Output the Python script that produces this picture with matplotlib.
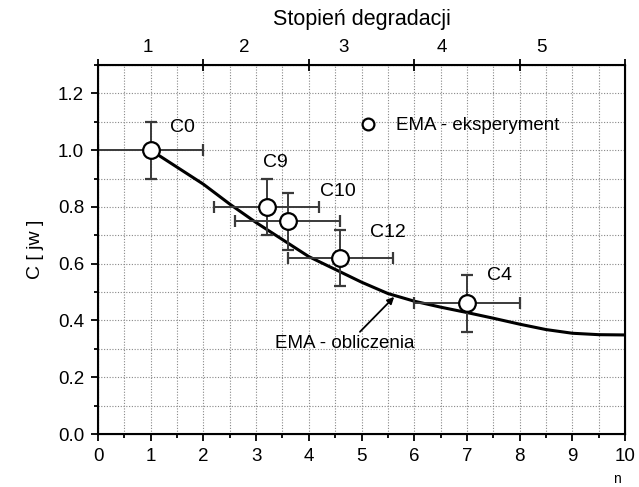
import matplotlib.pyplot as plt
from matplotlib.lines import Line2D
from matplotlib.ticker import MultipleLocator
import numpy as np

plt.rcParams['font.family'] = ['Liberation Sans', 'DejaVu Sans']

# measured points (EMA - eksperyment)
names = ['C0', 'C9', 'C10', 'C12', 'C4']
n_meas = [1.0, 3.2, 3.6, 4.6, 7.0]
c_meas = [1.0, 0.80, 0.75, 0.62, 0.46]
n_err = [1.0, 1.0, 1.0, 1.0, 1.0]
c_err = [0.1, 0.1, 0.1, 0.1, 0.1]
label_pos = [(1.37, 1.08), (3.13, 0.955), (4.21, 0.856), (5.16, 0.71), (7.38, 0.56)]

# calculated curve (EMA - obliczenia)
n_calc = [1, 1.5, 2, 2.5, 3, 3.5, 4, 4.5, 5, 5.5, 6, 6.5, 7, 7.5, 8, 8.5, 9, 9.5, 10]
c_calc = [1.0, 0.94, 0.88, 0.81, 0.745, 0.685, 0.625, 0.58, 0.535, 0.495, 0.468,
          0.447, 0.428, 0.408, 0.387, 0.368, 0.355, 0.350, 0.349]

# top axis (Stopień degradacji) label positions on n scale
deg_labels = ['1', '2', '3', '4', '5']
deg_pos = [0.95, 2.77, 4.65, 6.52, 8.42]

fig = plt.figure(figsize=(6.39, 4.87), dpi=100)
ax = fig.add_axes([0.1534, 0.1088, 0.8247, 0.7577])

ax.plot(n_calc, c_calc, color='black', lw=2.2, zorder=3)
ax.errorbar(n_meas, c_meas, xerr=n_err, yerr=c_err, fmt='o', ms=12,
            mfc='white', mec='black', mew=1.6, ecolor='#3a3a3a', elinewidth=1.4,
            capsize=4, capthick=1.4, zorder=4)

for name, (tx, ty) in zip(names, label_pos):
    ax.text(tx, ty, name, fontsize=14, ha='left', va='center')

ax.text(4.69, 0.318, 'EMA - obliczenia', fontsize=13.5, ha='center', va='center')
ax.annotate('', xy=(5.62, 0.483), xytext=(4.97, 0.36),
            arrowprops=dict(arrowstyle='-|>', color='black', lw=1.3,
                            mutation_scale=10, shrinkA=0, shrinkB=0))

h = Line2D([], [], ls='none', marker='o', ms=8.5, mfc='white', mec='black', mew=1.6)
ax.legend([h], ['EMA - eksperyment'], loc='center left', bbox_to_anchor=(0.491, 0.835),
          frameon=False, fontsize=13.5, handletextpad=0.9, borderaxespad=0,
          borderpad=0, handlelength=1.2)

ax.set_xlim(0, 10)
ax.set_ylim(0, 1.3)
ax.xaxis.set_major_locator(MultipleLocator(1))
ax.xaxis.set_minor_locator(MultipleLocator(0.5))
ax.set_yticks(np.arange(0, 1.21, 0.2))
ax.yaxis.set_minor_locator(MultipleLocator(0.1))
ax.yaxis.set_major_formatter(plt.FormatStrFormatter('%.1f'))
ax.grid(True, which='both', color='#888888', linestyle=(0, (1, 1.5)), lw=0.8)
ax.set_axisbelow(True)
ax.tick_params(which='both', direction='out', labelsize=13.5, width=1.3, pad=5)
ax.tick_params(which='major', length=5)
ax.tick_params(which='minor', length=3)
for s in ax.spines.values():
    s.set_linewidth(1.5)

ax.set_ylabel('C [ jw ]', fontsize=14, labelpad=10)
fig.text(617 / 639, 8 / 487, 'n', fontsize=10, ha='center', va='center')

ax2 = ax.twiny()
ax2.set_xlim(0, 10)
ax2.set_xticks(np.arange(0, 11, 2))
ax2.set_xticklabels([])
ax2.tick_params(which='major', direction='inout', length=8, width=1.3)
for p, t in zip(deg_pos, deg_labels):
    ax2.text(p, 1.025, t, transform=ax2.get_xaxis_transform(), fontsize=13.5,
             ha='center', va='bottom')
ax2.set_xlabel('Stopień degradacji', fontsize=15.5, labelpad=21)

fig.savefig('out.png', dpi=100)
